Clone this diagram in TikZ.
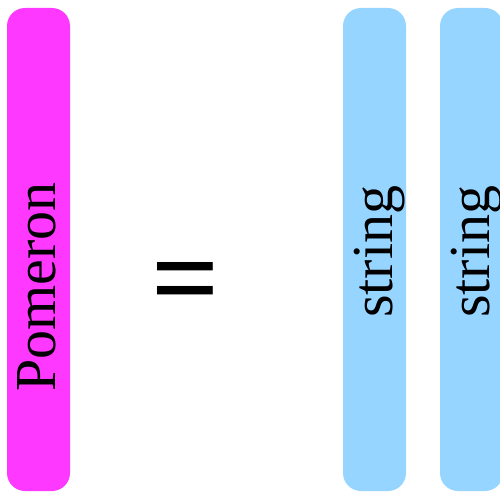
\documentclass[tikz,border=0pt]{standalone}
\usepackage{fontspec}
\setmainfont{Liberation Serif}
\definecolor{pomeronpink}{RGB}{255,56,255}
\definecolor{stringblue}{RGB}{150,213,255}
\begin{document}
\begin{tikzpicture}[x=1pt,y=-1pt,
  bar/.style={rectangle, rounded corners=18pt, draw=none, inner sep=0pt,
              minimum width=63pt, minimum height=483pt},
  label/.style={rotate=90, inner sep=0pt, anchor=base west,
                font=\fontsize{58}{58}\selectfont}]
  \useasboundingbox (0,0) rectangle (500,492);
  \clip (0,0) rectangle (500,492);
  % the Pomeron column
  \node[bar, fill=pomeronpink] (pomeron) at (38.5,249.5) {};
  \node[label] (pomeronlabel) at (55,392) {Pomeron};
  % equals sign
  \node[inner sep=0pt, anchor=base, font=\fontsize{120}{120}\selectfont\bfseries] (equals) at (186,318) {=};
  % two string columns
  \node[bar, fill=stringblue] (stringA) at (374.5,249.5) {};
  \node[bar, fill=stringblue] (stringB) at (471.5,249.5) {};
  \node[label] (stringAlabel) at (392,318) {string};
  \node[label] (stringBlabel) at (489,318) {string};
\end{tikzpicture}
\end{document}
